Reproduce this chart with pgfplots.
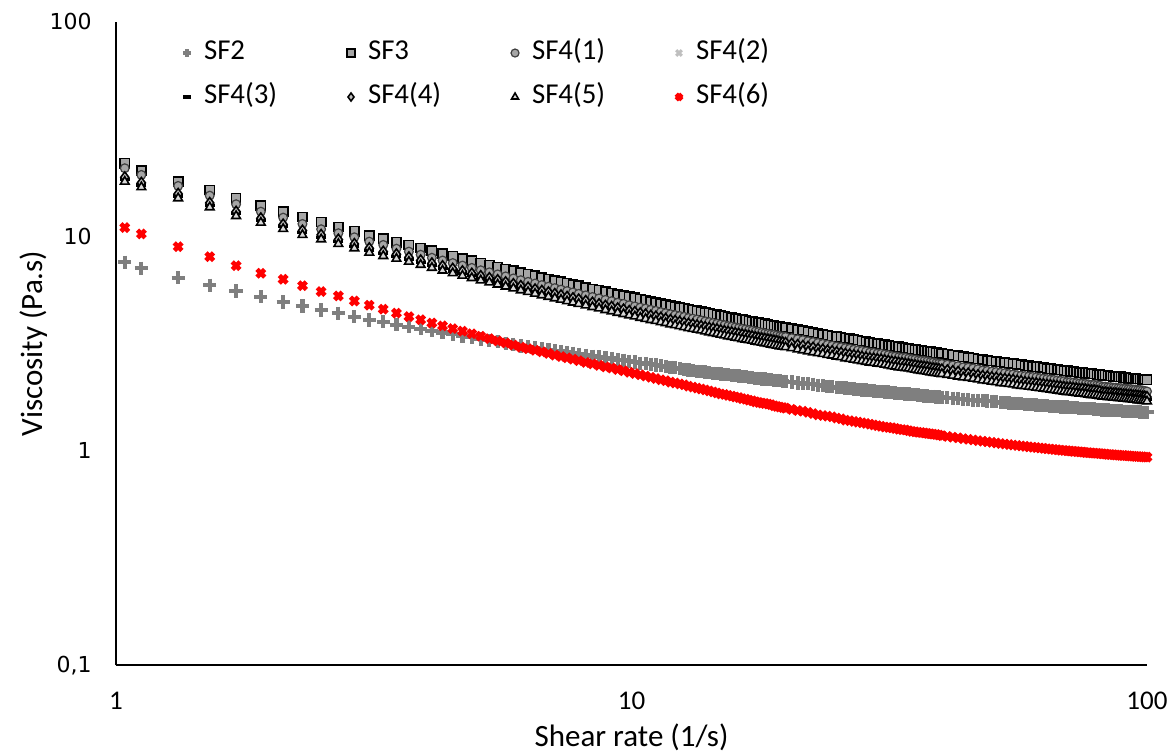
\documentclass[border=0pt]{standalone}
\usepackage{fontspec}
\setmainfont{Carlito}
\newfontfamily\dejavu{DejaVu Sans}
\usepackage{pgfplots}
\usepackage{pgfplotstable}
\pgfplotsset{compat=1.18}
\definecolor{sfgray}{HTML}{7F7F7F}
\definecolor{sqfill}{HTML}{A6A6A6}
\definecolor{cfill}{HTML}{A6A6A6}
\definecolor{cedge}{HTML}{404040}
\definecolor{xlight}{HTML}{BFBFBF}
\definecolor{dfill}{HTML}{C0C0C0}
\definecolor{tfill}{HTML}{D9D9D9}
\pgfplotsset{myleg/.style={legend image code/.code={\path[draw=none,fill=none] (-5pt,-3pt) rectangle (5pt,3pt);\draw[##1, mark size=2pt] plot coordinates {(0pt,0pt)};}}}

\pgfplotstableread{
x sftwo sfthree fa fb fc fd fe ff
1.04 7.56 21.9 20.75 18.60 18.38 18.82 17.97 10.97
1.12 7.09 20.2 19.31 17.52 17.32 17.73 16.93 10.25
1.32 6.41 17.97 17.16 15.57 15.39 15.75 15.04 8.94
1.52 5.91 16.44 15.46 14.13 13.96 14.29 13.65 8.03
1.71 5.56 15.04 14.10 12.87 12.72 13.01 12.43 7.29
1.91 5.23 13.89 13.02 11.98 11.84 12.11 11.57 6.72
2.11 4.94 13.02 12.21 11.20 11.07 11.33 10.82 6.30
2.30 4.73 12.30 11.41 10.49 10.37 10.62 10.14 5.88
2.50 4.53 11.65 10.78 10.02 9.90 10.14 9.68 5.52
2.70 4.38 11.05 10.33 9.53 9.42 9.64 9.21 5.27
2.90 4.22 10.55 9.89 9.10 8.99 9.20 8.79 4.99
3.10 4.07 10.10 9.44 8.68 8.58 8.78 8.39 4.77
3.30 3.99 9.72 9.11 8.37 8.28 8.47 8.09 4.57
3.50 3.87 9.38 8.75 8.14 8.04 8.23 7.86 4.38
3.70 3.79 9.10 8.48 7.88 7.79 7.97 7.61 4.22
3.9 3.71 8.82 8.20 7.62 7.53 7.71 7.36 4.08
4.1 3.63 8.55 7.94 7.38 7.30 7.47 7.13 3.94
4.3 3.56 8.31 7.71 7.16 7.08 7.25 6.92 3.82
4.5 3.50 8.08 7.50 6.97 6.89 7.05 6.73 3.71
4.7 3.43 7.88 7.30 6.78 6.70 6.86 6.55 3.61
4.9 3.38 7.69 7.12 6.61 6.54 6.69 6.39 3.51
5.1 3.32 7.51 6.94 6.45 6.38 6.52 6.23 3.42
5.3 3.27 7.34 6.79 6.30 6.23 6.38 6.09 3.33
5.5 3.22 7.19 6.64 6.17 6.10 6.24 5.96 3.25
5.7 3.17 7.04 6.50 6.03 5.97 6.10 5.83 3.18
5.9 3.13 6.90 6.36 5.91 5.84 5.98 5.71 3.11
6.1 3.08 6.77 6.24 5.80 5.73 5.86 5.60 3.04
6.3 3.05 6.65 6.13 5.69 5.63 5.76 5.50 2.99
6.5 3.02 6.54 6.02 5.59 5.53 5.65 5.40 2.94
6.7 2.99 6.43 5.92 5.50 5.43 5.56 5.31 2.89
6.9 2.96 6.32 5.82 5.40 5.34 5.47 5.22 2.84
7.1 2.93 6.22 5.73 5.32 5.26 5.38 5.14 2.79
7.3 2.90 6.13 5.64 5.24 5.18 5.30 5.06 2.75
7.5 2.87 6.04 5.55 5.15 5.10 5.21 4.98 2.71
7.7 2.85 5.95 5.47 5.08 5.02 5.14 4.91 2.67
7.9 2.82 5.87 5.39 5.01 4.95 5.07 4.84 2.63
8.15 2.79 5.78 5.30 4.93 4.87 4.99 4.76 2.58
8.4 2.76 5.68 5.21 4.84 4.79 4.90 4.68 2.54
8.65 2.74 5.60 5.13 4.77 4.72 4.82 4.61 2.50
8.9 2.71 5.51 5.05 4.69 4.64 4.74 4.53 2.46
9.15 2.69 5.44 4.98 4.62 4.57 4.68 4.47 2.43
9.4 2.66 5.36 4.90 4.55 4.50 4.61 4.40 2.39
9.65 2.64 5.29 4.84 4.49 4.44 4.55 4.34 2.36
9.9 2.61 5.22 4.77 4.43 4.38 4.48 4.28 2.32
10.15 2.59 5.16 4.71 4.38 4.33 4.43 4.23 2.29
10.4 2.56 5.09 4.65 4.32 4.27 4.37 4.17 2.26
10.65 2.55 5.03 4.60 4.27 4.22 4.32 4.12 2.23
10.9 2.53 4.97 4.54 4.21 4.16 4.26 4.07 2.20
11.15 2.51 4.92 4.49 4.17 4.12 4.22 4.03 2.17
11.4 2.49 4.86 4.43 4.12 4.07 4.17 3.98 2.14
11.65 2.47 4.81 4.38 4.08 4.03 4.12 3.94 2.12
11.9 2.45 4.76 4.33 4.03 3.98 4.07 3.89 2.09
12.15 2.44 4.71 4.29 3.99 3.94 4.03 3.85 2.07
12.4 2.42 4.66 4.25 3.94 3.90 3.99 3.81 2.05
12.65 2.40 4.62 4.21 3.90 3.86 3.95 3.77 2.03
12.9 2.38 4.57 4.16 3.86 3.82 3.91 3.73 2.00
13.15 2.37 4.53 4.13 3.83 3.79 3.88 3.70 1.98
13.4 2.35 4.49 4.09 3.80 3.76 3.84 3.67 1.96
13.65 2.34 4.45 4.05 3.77 3.72 3.81 3.64 1.94
13.9 2.33 4.41 4.01 3.73 3.68 3.77 3.60 1.92
14.15 2.32 4.38 3.98 3.70 3.65 3.74 3.57 1.90
14.4 2.30 4.34 3.94 3.66 3.62 3.71 3.54 1.88
14.65 2.29 4.31 3.91 3.63 3.59 3.68 3.51 1.86
14.9 2.28 4.27 3.88 3.60 3.56 3.64 3.48 1.84
15.15 2.27 4.24 3.85 3.57 3.53 3.61 3.45 1.83
15.4 2.26 4.20 3.81 3.54 3.50 3.58 3.42 1.81
15.65 2.25 4.17 3.79 3.52 3.48 3.56 3.40 1.80
15.9 2.24 4.14 3.76 3.49 3.45 3.53 3.37 1.78
16.15 2.23 4.11 3.73 3.47 3.43 3.51 3.35 1.77
16.4 2.22 4.08 3.70 3.44 3.40 3.48 3.32 1.75
16.65 2.21 4.06 3.68 3.42 3.38 3.46 3.30 1.74
16.9 2.20 4.03 3.65 3.40 3.36 3.43 3.28 1.72
17.15 2.19 4.01 3.63 3.37 3.34 3.41 3.26 1.71
17.4 2.18 3.98 3.60 3.34 3.31 3.38 3.23 1.69
17.65 2.17 3.96 3.58 3.32 3.29 3.36 3.21 1.68
17.9 2.16 3.93 3.55 3.30 3.26 3.34 3.19 1.67
18.15 2.16 3.91 3.53 3.28 3.24 3.32 3.17 1.66
18.4 2.15 3.88 3.51 3.26 3.22 3.30 3.15 1.65
18.65 2.14 3.86 3.49 3.24 3.20 3.28 3.13 1.64
18.9 2.13 3.83 3.47 3.22 3.18 3.26 3.11 1.62
19.15 2.13 3.81 3.45 3.20 3.16 3.24 3.09 1.61
19.4 2.12 3.79 3.42 3.18 3.14 3.21 3.07 1.60
19.65 2.11 3.77 3.41 3.17 3.13 3.20 3.06 1.59
19.9 2.10 3.75 3.39 3.15 3.11 3.18 3.04 1.58
20.45 2.09 3.71 3.35 3.11 3.08 3.15 3.01 1.56
21 2.07 3.66 3.31 3.07 3.04 3.11 2.97 1.54
21.5 2.06 3.63 3.28 3.04 3.01 3.08 2.94 1.53
22 2.05 3.59 3.24 3.01 2.98 3.05 2.91 1.51
22.5 2.04 3.56 3.21 2.98 2.95 3.02 2.88 1.49
23 2.02 3.52 3.18 2.95 2.92 2.98 2.85 1.47
23.5 2.01 3.49 3.15 2.93 2.90 2.96 2.83 1.46
24 2.00 3.46 3.12 2.90 2.87 2.93 2.80 1.45
24.5 1.99 3.43 3.09 2.88 2.84 2.91 2.78 1.44
25 1.98 3.40 3.06 2.85 2.81 2.88 2.75 1.42
25.5 1.97 3.38 3.04 2.82 2.79 2.86 2.73 1.41
26 1.96 3.35 3.01 2.79 2.76 2.83 2.70 1.39
26.5 1.95 3.33 2.99 2.77 2.74 2.81 2.68 1.38
27 1.94 3.30 2.96 2.75 2.72 2.79 2.66 1.37
27.5 1.93 3.28 2.94 2.73 2.70 2.77 2.64 1.36
28 1.92 3.25 2.92 2.71 2.68 2.74 2.62 1.35
28.5 1.92 3.23 2.90 2.69 2.66 2.72 2.60 1.34
29 1.91 3.20 2.87 2.67 2.64 2.70 2.58 1.33
29.5 1.90 3.18 2.86 2.66 2.63 2.69 2.57 1.32
30 1.89 3.16 2.84 2.64 2.61 2.67 2.55 1.31
30.5 1.89 3.14 2.83 2.63 2.60 2.66 2.54 1.30
31 1.88 3.12 2.81 2.61 2.58 2.64 2.52 1.29
31.5 1.88 3.10 2.79 2.59 2.56 2.62 2.50 1.285
32 1.87 3.08 2.76 2.57 2.54 2.60 2.48 1.28
32.5 1.86 3.07 2.75 2.56 2.53 2.59 2.47 1.27
33 1.85 3.05 2.73 2.54 2.51 2.57 2.45 1.26
33.5 1.85 3.03 2.72 2.53 2.50 2.56 2.44 1.255
34 1.84 3.01 2.71 2.52 2.49 2.54 2.43 1.25
34.5 1.84 3.00 2.69 2.50 2.48 2.53 2.42 1.24
35 1.83 2.98 2.67 2.48 2.46 2.51 2.40 1.23
35.5 1.83 2.97 2.66 2.47 2.45 2.50 2.39 1.225
36 1.82 2.95 2.64 2.45 2.43 2.48 2.37 1.22
36.5 1.81 2.94 2.63 2.44 2.42 2.47 2.36 1.215
37 1.80 2.92 2.62 2.43 2.40 2.46 2.35 1.21
37.5 1.80 2.91 2.61 2.42 2.39 2.45 2.34 1.205
38 1.79 2.89 2.59 2.40 2.37 2.43 2.32 1.20
38.5 1.79 2.88 2.58 2.39 2.36 2.42 2.31 1.195
39 1.78 2.86 2.56 2.38 2.35 2.41 2.30 1.19
39.5 1.78 2.85 2.55 2.37 2.34 2.40 2.29 1.183
40 1.775 2.84 2.54 2.36 2.33 2.39 2.28 1.176
41 1.766 2.82 2.52 2.34 2.31 2.37 2.26 1.166
42 1.757 2.79 2.50 2.32 2.29 2.35 2.24 1.157
43 1.75 2.77 2.48 2.30 2.27 2.33 2.22 1.148
44 1.74 2.74 2.45 2.28 2.25 2.30 2.20 1.139
45 1.73 2.72 2.44 2.27 2.24 2.29 2.19 1.131
46 1.72 2.70 2.42 2.25 2.22 2.27 2.17 1.123
47 1.715 2.68 2.40 2.23 2.20 2.25 2.15 1.115
48 1.71 2.66 2.37 2.20 2.18 2.23 2.13 1.108
49 1.705 2.64 2.36 2.19 2.17 2.22 2.12 1.101
50 1.70 2.62 2.34 2.17 2.15 2.20 2.10 1.094
51 1.69 2.61 2.33 2.16 2.14 2.19 2.09 1.087
52 1.68 2.59 2.31 2.14 2.12 2.17 2.07 1.081
53 1.675 2.58 2.30 2.13 2.11 2.16 2.06 1.075
54 1.67 2.56 2.28 2.12 2.10 2.15 2.05 1.069
55 1.665 2.55 2.27 2.11 2.09 2.14 2.04 1.063
56 1.66 2.53 2.25 2.09 2.07 2.12 2.02 1.058
57 1.655 2.52 2.24 2.08 2.06 2.11 2.01 1.053
58 1.65 2.50 2.23 2.07 2.05 2.09 2.00 1.048
59 1.645 2.49 2.22 2.06 2.04 2.08 1.99 1.043
60 1.64 2.47 2.21 2.05 2.03 2.07 1.98 1.039
61 1.635 2.46 2.20 2.04 2.02 2.06 1.97 1.035
62 1.63 2.45 2.18 2.03 2.01 2.05 1.96 1.030
63 1.625 2.44 2.17 2.02 2.00 2.04 1.95 1.026
64 1.62 2.42 2.16 2.01 1.99 2.03 1.94 1.022
65 1.615 2.41 2.15 2.00 1.98 2.02 1.93 1.018
66 1.61 2.40 2.14 1.99 1.96 2.01 1.92 1.014
67 1.605 2.39 2.13 1.98 1.95 2.00 1.91 1.010
68 1.60 2.38 2.12 1.97 1.94 1.99 1.90 1.007
69 1.60 2.37 2.11 1.96 1.93 1.98 1.89 1.003
70 1.60 2.36 2.09 1.95 1.92 1.97 1.88 1.000
71 1.595 2.35 2.09 1.95 1.92 1.97 1.88 0.997
72 1.59 2.34 2.08 1.94 1.91 1.96 1.87 0.994
73 1.585 2.33 2.07 1.93 1.90 1.95 1.86 0.991
74 1.58 2.32 2.06 1.91 1.89 1.94 1.85 0.988
75 1.575 2.31 2.06 1.91 1.89 1.94 1.85 0.985
76 1.57 2.30 2.05 1.90 1.88 1.93 1.84 0.982
77 1.57 2.30 2.04 1.89 1.87 1.92 1.83 0.980
78 1.57 2.29 2.03 1.88 1.86 1.91 1.82 0.977
79 1.565 2.28 2.03 1.88 1.86 1.91 1.82 0.975
80 1.56 2.27 2.02 1.87 1.85 1.90 1.81 0.972
81 1.555 2.26 2.01 1.86 1.84 1.89 1.80 0.970
82 1.55 2.25 1.99 1.85 1.83 1.87 1.79 0.967
83 1.55 2.25 1.99 1.85 1.83 1.87 1.79 0.965
84 1.55 2.24 1.98 1.84 1.82 1.86 1.78 0.962
85 1.545 2.23 1.98 1.84 1.82 1.86 1.78 0.960
86 1.54 2.22 1.97 1.83 1.81 1.85 1.77 0.958
87 1.54 2.22 1.97 1.83 1.81 1.85 1.77 0.956
88 1.54 2.21 1.96 1.82 1.80 1.84 1.76 0.954
89 1.535 2.21 1.96 1.82 1.80 1.84 1.76 0.952
90 1.53 2.20 1.95 1.81 1.79 1.83 1.75 0.950
91 1.53 2.19 1.95 1.81 1.79 1.83 1.75 0.948
92 1.53 2.18 1.94 1.80 1.78 1.82 1.74 0.947
93 1.525 2.18 1.94 1.80 1.78 1.82 1.74 0.945
94 1.52 2.17 1.93 1.79 1.77 1.81 1.73 0.943
95 1.52 2.17 1.93 1.79 1.77 1.81 1.73 0.941
96 1.52 2.16 1.92 1.78 1.76 1.80 1.72 0.940
97 1.515 2.16 1.92 1.78 1.76 1.80 1.72 0.938
98 1.51 2.15 1.91 1.77 1.75 1.79 1.71 0.937
99 1.51 2.15 1.90 1.77 1.75 1.79 1.71 0.935
100 1.51 2.14 1.89 1.76 1.74 1.78 1.70 0.934
}\datatable

\begin{document}
\begin{tikzpicture}
\fill[white] (0,0) rectangle (587pt,377pt);
\useasboundingbox (0,0) rectangle (587pt,377pt);
\begin{axis}[
  at={(58pt,44.35pt)}, anchor=south west,
  scale only axis, width=515.5pt, height=321.8pt,
  xmode=log, ymode=log, xmin=1, xmax=100, ymin=0.1, ymax=100,
  axis x line*=bottom, axis y line*=left,
  axis line style={-, line width=0.9pt, black},
  xtick={1,10,100}, xticklabels={1,10,100},
  ytick={0.1,1,10,100}, yticklabels={{0,1},1,10,100},
  minor xtick={}, minor ytick={},
  major tick length=0pt, minor tick length=0pt,
  xticklabel style={font=\fontsize{13.5}{16}\selectfont, anchor=north, inner sep=0pt, yshift=-13pt},
  yticklabel style={font=\dejavu\fontsize{11}{13}\selectfont, anchor=east, inner sep=0pt, xshift=-12pt},
  xlabel={Shear rate (1/s)}, ylabel={Viscosity (Pa.s)},
  xlabel style={at={(axis description cs:0.5,-0.1119)}, anchor=center, inner sep=0pt, font=\fontsize{15.5}{18}\selectfont},
  ylabel style={at={(axis description cs:-0.08,0.5)}, anchor=center, inner sep=0pt, font=\fontsize{15.5}{18}\selectfont},
  clip=false,
  legend columns=4,
  legend style={at={(axis description cs:0.0592,0.9723)}, anchor=north west, draw=none, fill=none,
    inner sep=0pt, outer sep=0pt, font=\fontsize{14.4}{17}\selectfont,
    nodes={inner sep=0pt, text width=62pt, text height=10pt, text depth=3.5pt, anchor=west},
    column sep=0pt, row sep=8.5pt,
    /tikz/every odd column/.append style={column sep=3.5pt},
    /tikz/every even column/.append style={column sep=6.5pt}},
]
\addplot[only marks, color=sfgray, mark=+, mark size=3.3pt, mark options={line width=2.1pt}, myleg] table[x=x,y=sftwo]{\datatable};
\addlegendentry{SF2}
\addplot[only marks, mark=square*, mark size=2.3pt, mark options={draw=black, fill=sqfill, line width=0.8pt}, myleg] table[x=x,y=sfthree]{\datatable};
\addlegendentry{SF3}
\addplot[only marks, mark=*, mark size=2.2pt, mark options={draw=cedge, fill=cfill, line width=0.6pt}, myleg] table[x=x,y=fa]{\datatable};
\addlegendentry{SF4(1)}
\addplot[only marks, color=xlight, mark=x, mark size=2.2pt, mark options={line width=1.5pt}, myleg] table[x=x,y=fb]{\datatable};
\addlegendentry{SF4(2)}
\addplot[only marks, color=black, mark=-, mark size=2.5pt, mark options={line width=1.6pt}, myleg] table[x=x,y=fc]{\datatable};
\addlegendentry{SF4(3)}
\addplot[only marks, mark=diamond*, mark size=2.7pt, mark options={draw=black, fill=dfill, line width=0.8pt}, myleg] table[x=x,y=fd]{\datatable};
\addlegendentry{SF4(4)}
\addplot[only marks, mark=triangle*, mark size=2.5pt, mark options={draw=black, fill=tfill, line width=0.8pt}, myleg] table[x=x,y=fe]{\datatable};
\addlegendentry{SF4(5)}
\addplot[only marks, color=red, mark=x, mark size=2.7pt, mark options={line width=2.3pt}, myleg] table[x=x,y=ff]{\datatable};
\addlegendentry{SF4(6)}
\end{axis}
\end{tikzpicture}
\end{document}
